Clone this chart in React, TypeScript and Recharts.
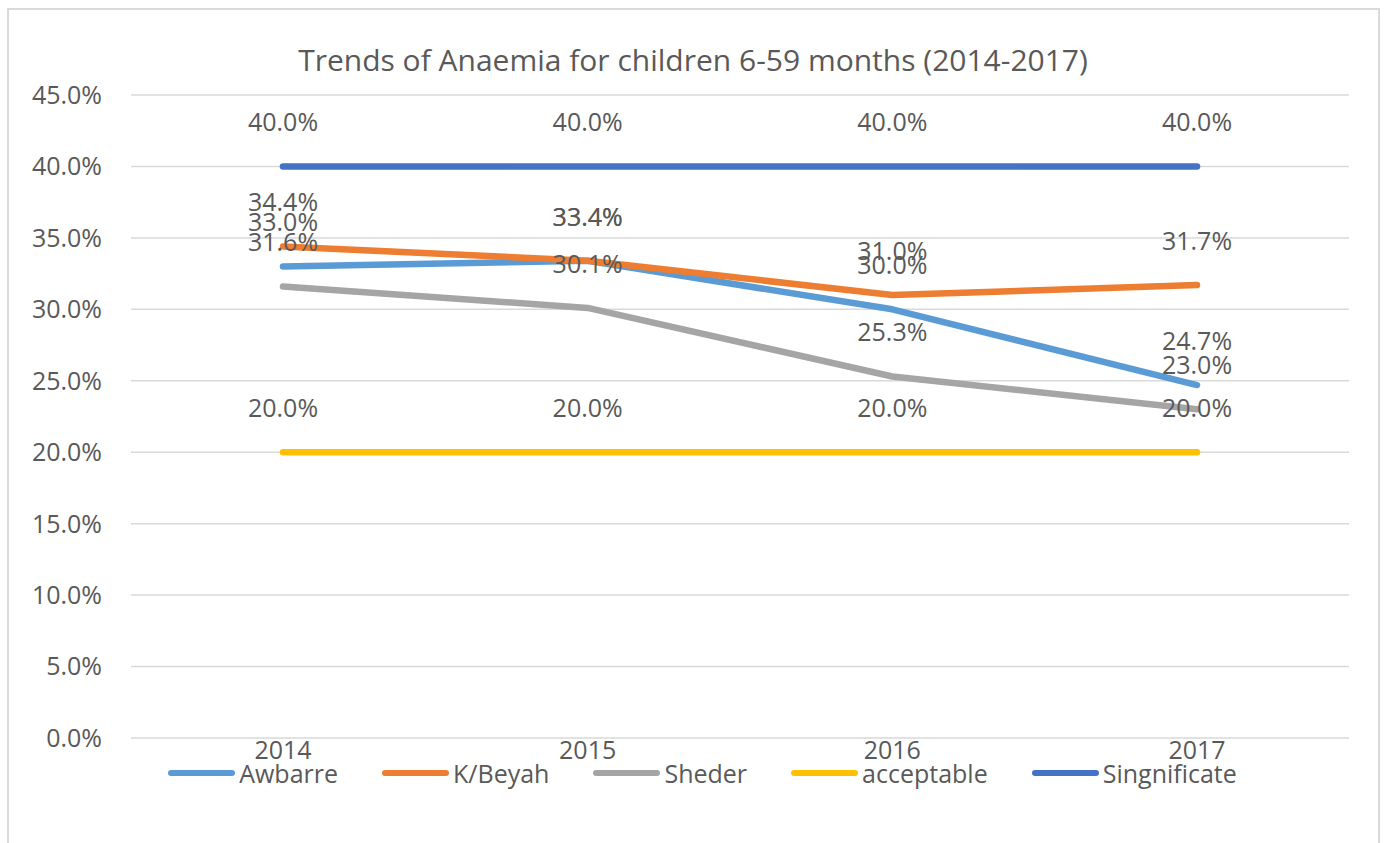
import { LineChart, Line, XAxis, YAxis, CartesianGrid, LabelList } from "recharts";

const years = ["2014", "2015", "2016", "2017"];
const awbarre = [33.0, 33.4, 30.0, 24.7];
const kBeyah = [34.4, 33.4, 31.0, 31.7];
const sheder = [31.6, 30.1, 25.3, 23.0];
const acceptable = [20.0, 20.0, 20.0, 20.0];
const singnificate = [40.0, 40.0, 40.0, 40.0];
const yTicks = [0, 5, 10, 15, 20, 25, 30, 35, 40, 45];

const SERIES = [
  { key: "Awbarre", values: awbarre, color: "#5B9BD5" },
  { key: "K/Beyah", values: kBeyah, color: "#ED7D31" },
  { key: "Sheder", values: sheder, color: "#A5A5A5" },
  { key: "acceptable", values: acceptable, color: "#FFC000" },
  { key: "Singnificate", values: singnificate, color: "#4472C4" },
];

const data = years.map((year, i) => {
  const row: Record<string, string | number> = { year };
  SERIES.forEach((s) => (row[s.key] = s.values[i]));
  return row;
});

const FONT = "'Open Sans', sans-serif";
const TEXT = "#595959";

const pct = (v: number) => `${v.toFixed(1)}%`;

const renderLabel = (props: any) => {
  const { x, y, value } = props;
  return (
    <text x={x} y={y - 35} textAnchor="middle" fill={TEXT} fontSize={25} fontFamily={FONT}>
      {pct(Number(value))}
    </text>
  );
};

export default function App() {
  return (
    <div style={{ position: "absolute", left: 0, top: 0, width: 1385, height: 843, background: "#fff", overflow: "hidden" }}>
      <div style={{ position: "absolute", left: 7, top: 8, width: 1369, height: 900, border: "2px solid #d9d9d9" }} />
      <div style={{ position: "absolute", left: 8, top: 39, width: 1370, textAlign: "center", fontFamily: FONT, fontSize: 30, color: TEXT }}>
        Trends of Anaemia for children 6-59 months (2014-2017)
      </div>
      <div style={{ position: "absolute", left: 0, top: 0 }}>
        <LineChart width={1385} height={843} data={data} margin={{ top: 95, right: 36, bottom: 75, left: 0 }}>
          <CartesianGrid vertical={false} stroke="#d9d9d9" strokeWidth={1.5} />
          <XAxis
            dataKey="year"
            height={30}
            padding={{ left: 152, right: 152 }}
            axisLine={false}
            tickLine={false}
            tickSize={0}
            tickMargin={3}
            tick={{ fill: TEXT, fontSize: 25, fontFamily: FONT }}
          />
          <YAxis
            width={131}
            domain={[0, 45]}
            ticks={yTicks}
            axisLine={false}
            tickLine={false}
            tickSize={0}
            tickMargin={29}
            tickFormatter={pct}
            tick={{ fill: TEXT, fontSize: 25, fontFamily: FONT }}
          />
          {SERIES.map((s) => (
            <Line
              key={s.key}
              dataKey={s.key}
              stroke={s.color}
              strokeWidth={6.5}
              strokeLinecap="round"
              strokeLinejoin="round"
              dot={false}
              isAnimationActive={false}
            >
              <LabelList dataKey={s.key} content={renderLabel} />
            </Line>
          ))}
        </LineChart>
      </div>
      <div
        style={{
          position: "absolute",
          left: 10,
          top: 756,
          width: 1385,
          display: "flex",
          justifyContent: "center",
          gap: 44,
          fontFamily: FONT,
          fontSize: 25,
          color: TEXT,
        }}
      >
        {SERIES.map((s) => (
          <div key={s.key} style={{ display: "flex", alignItems: "center" }}>
            <span style={{ display: "inline-block", width: 67, height: 6, borderRadius: 3, background: s.color }} />
            <span style={{ marginLeft: 4 }}>{s.key}</span>
          </div>
        ))}
      </div>
    </div>
  );
}
